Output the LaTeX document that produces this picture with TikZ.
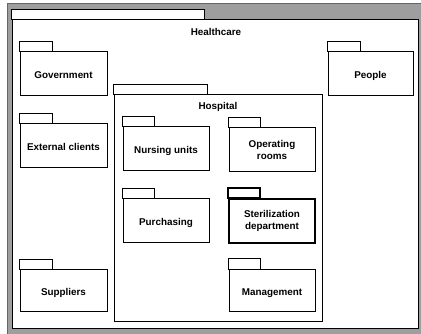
\documentclass[tikz,border=0pt]{standalone}
\usepackage{fontspec}
\setmainfont{Liberation Sans}
\begin{document}
\begin{tikzpicture}[x=0.75pt,y=-0.75pt,
  pkg/.style={draw=black, fill=white, line width=0.75pt, inner sep=0pt, align=center,
    font=\bfseries\fontsize{7.4}{9}\selectfont, minimum width=64.5pt, minimum height=33pt},
  oneline/.style={text height=7pt, text depth=0pt},
  thickpkg/.style={pkg, line width=1.6pt},
  tabbox/.style={draw=black, fill=white, line width=0.75pt},
  lbl/.style={font=\bfseries\fontsize{7.4}{9}\selectfont, inner sep=0pt}]
\useasboundingbox (0,0) rectangle (421,334);
% grey background frame
\draw[fill=black!38, draw=black!60, line width=0.75pt] (7,3.5) rectangle (423,336);
% Healthcare
\node[pkg, minimum width=304.5pt, minimum height=231.75pt] (hc) at (215,174.5) {};
\draw[tabbox] (hc.north west) rectangle ++(193,-10);
\node[lbl] (hcl) at (216,32) {Healthcare};
% Government, People, External clients, Suppliers
\node[pkg, oneline, minimum width=65.25pt] (gov) at (63.5,74) {Government};
\draw[tabbox] (gov.north west) rectangle ++(33,-10);
\node[pkg, oneline, minimum width=63.75pt] (ppl) at (370.5,74) {People};
\draw[tabbox] (ppl.north west) rectangle ++(33,-10);
\node[pkg, oneline, minimum width=65.25pt] (ext) at (63.5,146) {External clients};
\draw[tabbox] (ext.north west) rectangle ++(33,-10);
\node[pkg, oneline, minimum width=65.25pt, minimum height=31.5pt] (sup) at (63.5,291) {Suppliers};
\draw[tabbox] (sup.north west) rectangle ++(33,-10);
% Hospital
\node[pkg, minimum width=156pt, minimum height=170.25pt] (hosp) at (218,208.5) {};
\draw[tabbox] (hosp.north west) rectangle ++(94,-10);
\node[lbl] (hospl) at (218,107) {Hospital};
% inner packages
\node[pkg, oneline] (nur) at (166,149) {Nursing units};
\draw[tabbox] (nur.north west) rectangle ++(32,-10);
\node[pkg] (opr) at (272,150) {Operating\\rooms};
\draw[tabbox] (opr.north west) rectangle ++(32,-10);
\node[pkg, oneline] (pur) at (166,221) {Purchasing};
\draw[tabbox] (pur.north west) rectangle ++(32,-10);
\node[thickpkg] (ste) at (272,221) {Sterilization\\department};
\draw[tabbox, line width=1.6pt] (ste.north west) rectangle ++(32,-10);
\node[pkg, oneline, minimum height=31.5pt] (man) at (272,291) {Management};
\draw[tabbox] (man.north west) rectangle ++(32,-11);
\end{tikzpicture}
\end{document}
